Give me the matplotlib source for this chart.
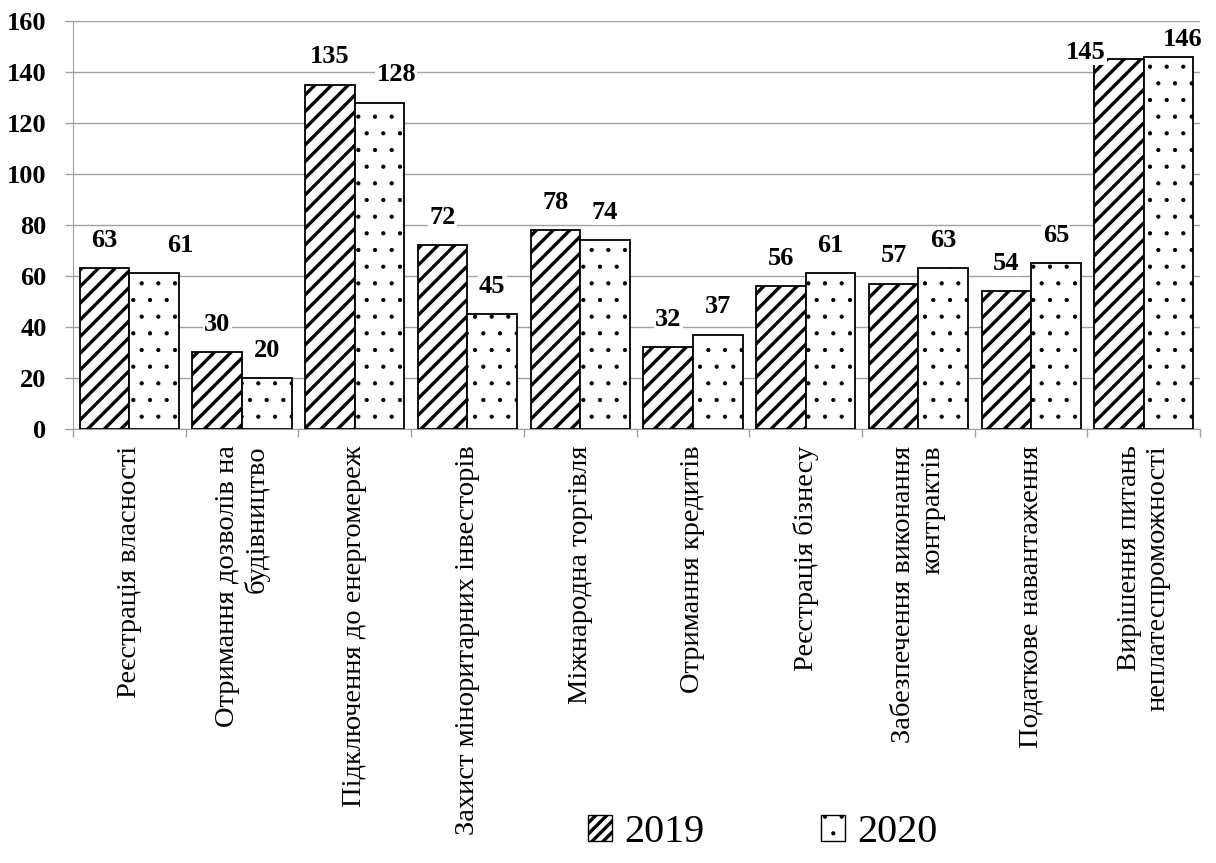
import numpy as np
import matplotlib
matplotlib.use('Agg')
import matplotlib.pyplot as plt
from matplotlib.patches import Patch

plt.rcParams['font.family'] = ['Liberation Serif', 'DejaVu Serif']

categories = ['Реєстрація власності', 'Отримання дозволів на\nбудівництво',
              'Підключення до енергомереж', 'Захист міноритарних інвесторів',
              'Міжнародна торгівля', 'Отримання кредитів', 'Реєстрація бізнесу',
              'Забезпечення виконання\nконтрактів', 'Податкове навантаження',
              'Вирішення питань\nнеплатеспроможності']
v2019 = [63, 30, 135, 72, 78, 32, 56, 57, 54, 145]
v2020 = [61, 20, 128, 45, 74, 37, 61, 63, 65, 146]
yticks = [0, 20, 40, 60, 80, 100, 120, 140, 160]

# label nudges (points), the original chart shifts a few labels
nudge2019 = {9: (-24, -15)}
nudge2020 = {0: (19, 0), 2: (12, 0), 9: (10, -8)}

fig = plt.figure(figsize=(12.16, 8.63), dpi=100)
ax = fig.add_axes([0.060, 0.503, 0.927, 0.4727])

x = np.arange(len(categories))
w = 0.44
plt.rcParams['hatch.linewidth'] = 2.4
b1 = ax.bar(x - w/2, v2019, w, color='white', edgecolor='black', hatch='//', lw=1.3, zorder=3)
plt.rcParams['hatch.linewidth'] = 0.6
b2 = ax.bar(x + w/2, v2020, w, color='white', edgecolor='black', hatch='.', lw=1.3, zorder=3)

for bars, vals, nud in ((b1, v2019, nudge2019), (b2, v2020, nudge2020)):
    for i, (r, v) in enumerate(zip(bars, vals)):
        dx, dy = nud.get(i, (0, 0))
        ax.annotate(str(v), (r.get_x() + r.get_width()/2, v), xytext=(dx, 20 + dy),
                    textcoords='offset points', ha='center', va='center',
                    fontsize=19, fontweight='bold', zorder=5,
                    bbox=dict(facecolor='white', edgecolor='none', pad=1))

ax.set_xlim(-0.5, len(categories) - 0.5)
ax.set_ylim(0, 160)
ax.set_yticks(yticks)
ax.set_yticklabels([str(t) for t in yticks], fontsize=19, fontweight='bold')
ax.tick_params(axis='y', length=6, width=1, color='#a0a0a0', pad=13)

ax.set_xticks(x)
ax.set_xticklabels(categories, rotation=90, fontsize=20.5, va='top', ha='center',
                   multialignment='right')
ax.set_xticks(np.arange(-0.5, len(categories)), minor=True)
ax.tick_params(axis='x', which='major', length=0, pad=12)
ax.tick_params(axis='x', which='minor', length=6, width=1, color='#a0a0a0')

ax.grid(axis='y', color='#a0a0a0', lw=1, zorder=0)
for s in ['top', 'right']:
    ax.spines[s].set_visible(False)
for s in ['left', 'bottom']:
    ax.spines[s].set_color('#a0a0a0')

plt.rcParams['hatch.linewidth'] = 2.4
h1 = Patch(facecolor='white', edgecolor='black', hatch='///')
plt.rcParams['hatch.linewidth'] = 0.6
h2 = Patch(facecolor='white', edgecolor='black', hatch='.')
leg = fig.legend([h1, h2], ['2019', '2020'], loc='lower center', bbox_to_anchor=(0.627, -0.028),
                 ncol=2, frameon=False, fontsize=29, handlelength=0.6, handleheight=0.6,
                 handletextpad=0.3, columnspacing=2.9)
for p in leg.get_patches():
    if hasattr(p, 'set_hatch_linewidth') and p.get_hatch() == '///':
        p.set_hatch_linewidth(2.4)

fig.savefig('out.png', dpi=100)
